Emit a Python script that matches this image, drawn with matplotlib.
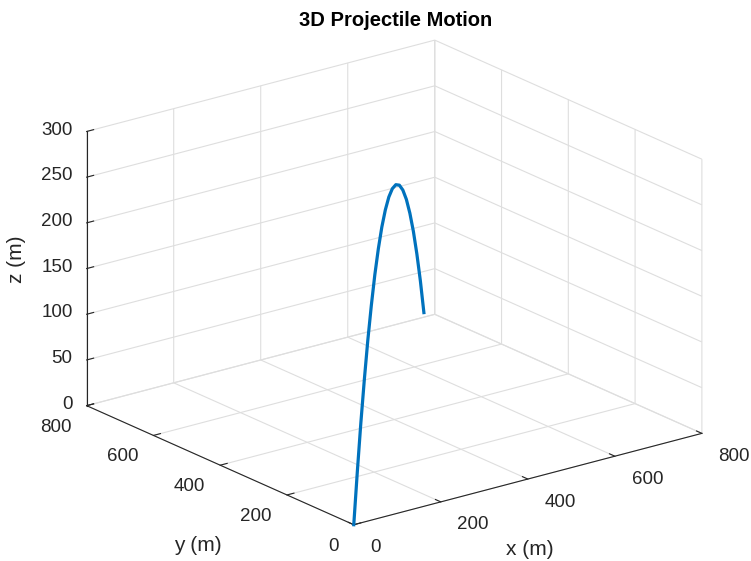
import numpy as np
import matplotlib
matplotlib.use("Agg")
import matplotlib.pyplot as plt
from matplotlib.ticker import NullFormatter
from mpl_toolkits.mplot3d import proj3d

plt.rcParams['font.family'] = ['Liberation Sans', 'DejaVu Sans']

# trajectory points (m)
x_m = [0, 38.8, 77.5, 116.3, 155, 193.8, 232.5, 271.3, 310, 348.8, 387.5, 426.3, 465, 503.8,
       542.5, 581.3, 620, 658.8, 697.5, 736.3, 775]
y_m = [0, 40, 80, 120, 160, 200, 240, 280, 320, 360, 400, 440, 480, 520, 560, 600, 640, 680, 720, 760, 800]
z_m = [0, 46.3, 87.8, 124.4, 156.2, 183.1, 205.2, 222.4, 234.8, 242.3, 245.0, 242.8, 235.8, 223.9,
       207.2, 185.6, 159.2, 127.9, 91.8, 50.8, 5.0]

xy_ticks = [0, 200, 400, 600, 800]
z_ticks = [0, 50, 100, 150, 200, 250, 300]

txt = '#262626'

fig = plt.figure(figsize=(7.51, 5.61), dpi=100)
ax = fig.add_axes([0.0153, 0.0036, 1.0, 0.96], projection='3d', proj_type='ortho')
ax.view_init(elev=20, azim=-127.5)
ax.set_box_aspect((1, 1, 0.665), zoom=1.236)

ax.plot(x_m, y_m, z_m, color='#0072BD', lw=2.3)

ax.set_xlim(0, 800)
ax.set_ylim(0, 800)
ax.set_zlim(0, 300)
ax.set_xticks(xy_ticks)
ax.set_yticks(xy_ticks)
ax.set_zticks(z_ticks)

for axis in (ax.xaxis, ax.yaxis, ax.zaxis):
    axis.set_major_formatter(NullFormatter())
    axis.set_pane_color((1, 1, 1, 0))
    axis.pane.set_edgecolor((0.85, 0.85, 0.85))
    axis.line.set_color(txt)
    axis._axinfo['grid']['color'] = (0.87, 0.87, 0.87, 1)
    axis._axinfo['grid']['linewidth'] = 0.8
    axis._axinfo['tick']['inward_factor'] = 0.0
    axis._axinfo['tick']['outward_factor'] = 0.25
    axis.set_tick_params(colors=txt)

fig.canvas.draw()
M = ax.get_proj()


def label3d(x, y, z, s, **kw):
    # project the 3D point and put a plain 2D text there
    px, py, _ = proj3d.proj_transform(x, y, z, M)
    ax.text2D(px, py, s, transform=ax.transData, fontsize=13.5, color=txt, va='center', **kw)


# tick labels placed MATLAB-style
for v in xy_ticks:
    label3d(v, -50, -17, str(v), ha='left')
    label3d(-35, v, -19, str(v), ha='right')
for v in z_ticks:
    label3d(-16, 821, v, str(v), ha='right')

fig.text(0.527, 0.964, '3D Projectile Motion', fontsize=14.5, fontweight='bold',
         ha='center', va='center')
fig.text(0.706, 0.02, 'x (m)', fontsize=15, color=txt, ha='center', va='center')
fig.text(0.264, 0.0285, 'y (m)', fontsize=15, color=txt, ha='center', va='center')
fig.text(0.0226, 0.538, 'z (m)', fontsize=15, color=txt, ha='center', va='center', rotation=90)

fig.savefig('out.png', dpi=100)
